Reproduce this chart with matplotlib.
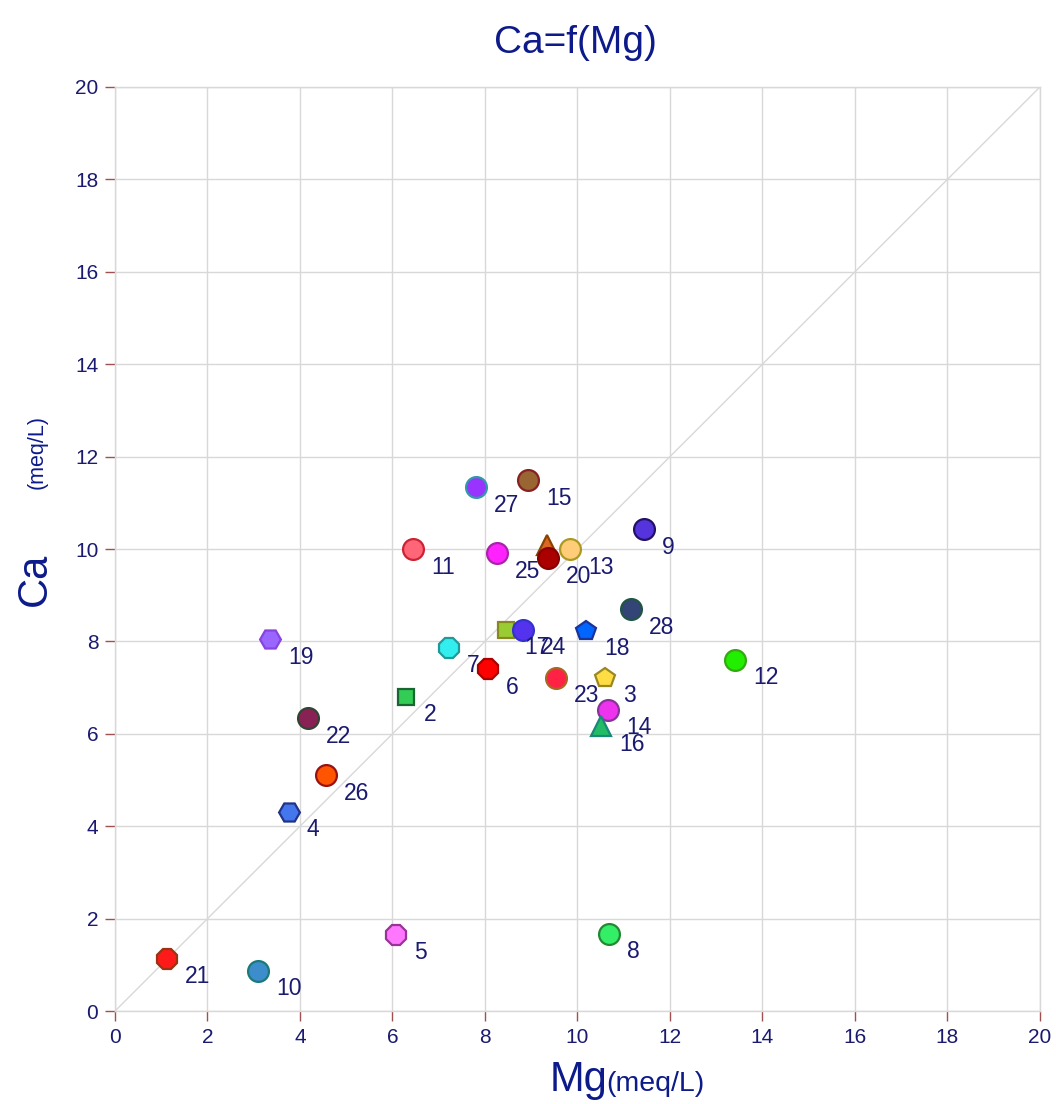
import matplotlib
matplotlib.use("Agg")
import matplotlib.pyplot as plt

# ---- data ----
ids = ["1", "2", "3", "4", "5", "6", "7", "8", "9", "10", "11", "12", "13", "14",
       "15", "16", "17", "18", "19", "20", "21", "22", "23", "24", "25", "26", "27", "28"]
mg = [9.34, 6.29, 10.59, 3.76, 6.08, 8.06, 7.22, 10.68, 11.44, 3.09, 6.44, 13.41, 9.84, 10.66,
      8.93, 10.51, 8.45, 10.18, 3.35, 9.36, 1.12, 4.17, 9.54, 8.82, 8.26, 4.56, 7.81, 11.16]
ca = [10.09, 6.80, 7.21, 4.31, 1.65, 7.40, 7.86, 1.67, 10.43, 0.87, 10.00, 7.60, 10.00, 6.52,
      11.49, 6.17, 8.25, 8.23, 8.05, 9.80, 1.13, 6.34, 7.21, 8.25, 9.91, 5.11, 11.34, 8.70]
show_label = [False] + [True] * 27
markers = ["^", "s", "p", "H", "8", "8", "8", "o", "o", "o", "o", "o", "o", "o",
           "o", "^", "s", "p", "H", "o", "8", "o", "o", "o", "o", "o", "o", "o"]
facecolors = ["#dd6622", "#33cc55", "#ffdd44", "#4477ee", "#ff77ff", "#ff0000", "#33eeee", "#33ee66",
              "#5533dd", "#3d8ccc", "#ff6677", "#22ee00", "#ffcc77", "#ee33ee",
              "#996633", "#22bb66", "#99cc33", "#0066ff", "#9966ff", "#aa0000", "#ff1a1a",
              "#882255", "#ff2244", "#5533ee", "#ff22ff", "#ff5500", "#9933ff", "#334477"]
edgecolors = ["#884400", "#1a6633", "#998822", "#223388", "#993399", "#aa0000", "#229999", "#228833",
              "#221166", "#1a7a7a", "#cc2233", "#33aa11", "#aa9922", "#883399",
              "#882222", "#1a8877", "#888822", "#1a3399", "#8844dd", "#880000", "#993311",
              "#334433", "#aa6622", "#3333cc", "#aa22aa", "#991111", "#3399aa", "#225544"]
sizes = [15, 11, 15, 15, 15, 15, 15, 15, 15, 15, 15, 15, 15, 15,
         15, 14, 11, 15, 15, 15, 15, 15, 15, 15, 15, 15, 15, 15]

ticks = [0, 2, 4, 6, 8, 10, 12, 14, 16, 18, 20]

navy = "#1a1a70"
title_blue = "#0d1a8a"
font = "Liberation Sans"

fig = plt.figure(figsize=(10.56, 11.04), dpi=100)
ax = fig.add_axes([0.1089, 0.0842, 0.8759, 0.837])
ax.set_xlim(0, 20)
ax.set_ylim(0, 20)
ax.set_xticks(ticks)
ax.set_yticks(ticks)
ax.set_xticklabels([str(t) for t in ticks], family=font)
ax.set_yticklabels([str(t) for t in ticks], family=font)
ax.grid(True, color="#d8d8d8", linewidth=1.0, zorder=0)
ax.set_axisbelow(True)
for s in ax.spines.values():
    s.set_color("#d8d8d8")
    s.set_linewidth(1.0)
ax.tick_params(axis="both", direction="out", length=7, width=1, color="#a05050",
               labelcolor=navy, labelsize=15, pad=5)

# 1:1 line
ax.plot([0, 20], [0, 20], color="#d8d8d8", linewidth=1.0, zorder=1)

for i in range(len(ids)):
    ax.plot(mg[i], ca[i], linestyle="none", marker=markers[i], markersize=sizes[i],
            markerfacecolor=facecolors[i], markeredgecolor=edgecolors[i],
            markeredgewidth=1.6, zorder=3 if i else 2)
    if show_label[i]:
        ax.annotate(ids[i], (mg[i], ca[i]), xytext=(13, -13), textcoords="offset points",
                    ha="left", va="center", fontsize=16.5, color=navy,
                    family=font, zorder=4)

fig.text(0.545, 0.961, "Ca=f(Mg)", ha="center", va="center", fontsize=28,
         color=title_blue, family=font)
fig.text(0.548, 0.022, "Mg", ha="center", va="center", fontsize=30,
         color=title_blue, family=font)
fig.text(0.574, 0.0185, "(meq/L)", ha="left", va="center", fontsize=20.5,
         color=title_blue, family=font)
fig.text(0.033, 0.475, "Ca", ha="center", va="center", fontsize=30, rotation=90,
         color=title_blue, family=font)
fig.text(0.035, 0.591, "(meq/L)", ha="center", va="center", fontsize=15.5, rotation=90,
         color=title_blue, family=font)

fig.savefig("out.png", dpi=100, facecolor="white")
